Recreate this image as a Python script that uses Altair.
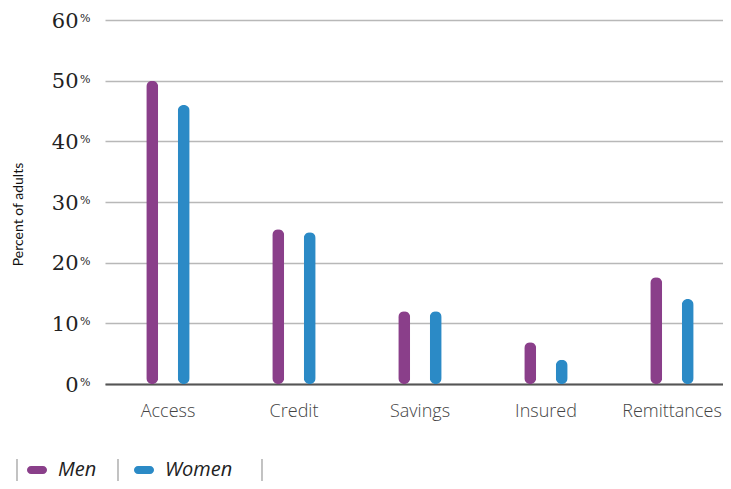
import altair as alt
import pandas as pd

categories = ["Access", "Credit", "Savings", "Insured", "Remittances"]
men = [50, 25.5, 12, 6.9, 17.6]
women = [46, 25, 12, 4, 14]
groups = ["Men", "Women"]
colors = ["#8a3f8a", "#2b8ac6"]
y_ticks = [0, 10, 20, 30, 40, 50, 60]

rows = []
for c, m, w in zip(categories, men, women):
    rows.append({"cat": c, "group": "Men", "value": m})
    rows.append({"cat": c, "group": "Women", "value": w})
df = pd.DataFrame(rows)

W, H = 618, 364
pill = "M-0.6,-0.4 L0.6,-0.4 A0.4,0.4 0 0 1 0.6,0.4 L-0.6,0.4 A0.4,0.4 0 0 1 -0.6,-0.4 Z"

y_axis = alt.Axis(
    values=y_ticks, title="Percent of adults", domain=False, ticks=False,
    grid=True, gridColor="#b8b8b8", gridWidth=1.5,
    labelFont="DejaVu Serif", labelFontSize=21, labelColor="#222222",
    labelPadding=27, labelExpr="datum.value", labelOffset=1,
    titleFont="Lato", titleFontSize=14, titleFontWeight="normal",
    titleColor="#111111", titleX=-80, titleY=194,
)
y_scale = alt.Scale(domain=[0, 60])

bars = alt.Chart(df).mark_bar(size=12, cornerRadius=6).encode(
    x=alt.X(
        "cat:N",
        sort=categories,
        scale=alt.Scale(paddingInner=0.5, paddingOuter=0.2024, align=0.6176),
        axis=alt.Axis(
            title=None, labelAngle=0, ticks=False, domain=True,
            domainColor="#555555", domainWidth=2, labelFont="Open Sans",
            labelFontSize=18, labelFontWeight=300, labelColor="#444444",
            labelPadding=18, grid=False,
        ),
    ),
    xOffset=alt.XOffset("group:N", sort=groups,
                        scale=alt.Scale(paddingInner=0, paddingOuter=0)),
    y=alt.Y("value:Q", scale=y_scale, axis=y_axis),
    color=alt.Color(
        "group:N",
        scale=alt.Scale(domain=groups, range=colors),
        legend=alt.Legend(
            orient="none", legendX=-78, legendY=440, direction="horizontal",
            title=None, symbolType=pill, symbolSize=400, symbolStrokeWidth=0,
            symbolOpacity=1, labelFont="Open Sans", labelFontSize=20,
            labelFontStyle="italic", labelColor="#222222", labelOffset=11,
            columnPadding=37,
        ),
    ),
)

pct = alt.Chart(pd.DataFrame({"v": y_ticks})).mark_text(
    text="%", font="DejaVu Serif", fontSize=11, align="left",
    baseline="top", dy=-7, color="#222222",
).encode(y=alt.Y("v:Q", scale=y_scale, axis=y_axis), x=alt.value(-25))

seps = []
for sx in [-88, 13, 157]:
    seps.append(
        alt.Chart(alt.Data(values=[{}])).mark_rule(color="#9a9a9a", strokeWidth=1.2)
        .encode(x=alt.value(sx), y=alt.value(439), y2=alt.value(466))
    )

chart = alt.layer(bars, pct, *seps).properties(
    width=W, height=H,
    autosize=alt.AutoSizeParams(type="none"),
    padding={"left": 97, "top": 12, "right": 0, "bottom": 97},
).configure_view(stroke=None)

chart.save("out.html", embed_options={"renderer": "svg", "actions": False})
